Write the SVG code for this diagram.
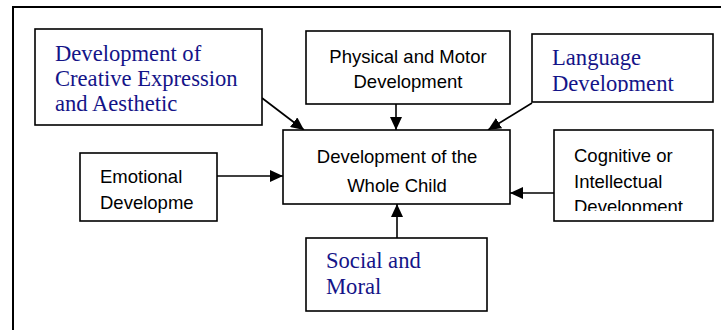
<svg xmlns="http://www.w3.org/2000/svg" width="721" height="330" viewBox="0 0 721 330">
<style>
.box{fill:#fff;stroke:#000;stroke-width:1.6}
.sans{font-family:"Liberation Sans",Arial,sans-serif;font-size:18.5px;fill:#000}
.serif{font-family:"Liberation Serif","Times New Roman",serif;font-size:22.6px;fill:#141488}
.conn{stroke:#000;stroke-width:1.6;fill:none;marker-end:url(#ah)}
</style>
<defs>
<marker id="ah" markerUnits="userSpaceOnUse" markerWidth="14" markerHeight="12" refX="13" refY="6" orient="auto">
<path d="M0,0 L13,6 L0,12 Z" fill="#000"/>
</marker>
<clipPath id="clipLang"><rect x="532" y="34" width="181" height="58"/></clipPath>
<clipPath id="clipCog"><rect x="554" y="130" width="159" height="81"/></clipPath>
</defs>
<rect width="721" height="330" fill="#fff"/>
<path d="M13,330 L13,7 L721,7" fill="none" stroke="#000" stroke-width="2"/>
<g id="connectors">
<line class="conn" x1="262" y1="98" x2="304" y2="130"/>
<line class="conn" x1="396" y1="104" x2="396" y2="130"/>
<line class="conn" x1="532" y1="103" x2="488" y2="130"/>
<line class="conn" x1="217" y1="176" x2="283" y2="176"/>
<line class="conn" x1="554" y1="193" x2="510" y2="193"/>
<line class="conn" x1="397" y1="238" x2="397" y2="204"/>
</g>
<g id="creative">
<rect class="box" x="35" y="29" width="227" height="96"/>
<text class="serif" x="55" y="61">Development of</text>
<text class="serif" x="55" y="86">Creative Expression</text>
<text class="serif" x="55" y="111">and Aesthetic</text>
</g>
<g id="physical">
<rect class="box" x="306" y="31" width="204" height="73"/>
<text class="sans" x="408" y="63" text-anchor="middle">Physical and Motor</text>
<text class="sans" x="408" y="88" text-anchor="middle">Development</text>
</g>
<g id="language">
<rect class="box" x="532" y="34" width="181" height="68"/>
<g clip-path="url(#clipLang)">
<text class="serif" x="552" y="65">Language</text>
<text class="serif" x="552" y="91">Development</text>
</g>
</g>
<g id="whole">
<rect class="box" x="283" y="130" width="227" height="74"/>
<text class="sans" x="397" y="163" text-anchor="middle">Development of the</text>
<text class="sans" x="397" y="192" text-anchor="middle">Whole Child</text>
</g>
<g id="emotional">
<rect class="box" x="80" y="153" width="137" height="68"/>
<text class="sans" x="100" y="183">Emotional</text>
<text class="sans" x="100" y="209">Developme</text>
</g>
<g id="cognitive">
<rect class="box" x="554" y="130" width="159" height="91"/>
<g clip-path="url(#clipCog)">
<text class="sans" x="574" y="162">Cognitive or</text>
<text class="sans" x="574" y="188">Intellectual</text>
<text class="sans" x="574" y="213">Development</text>
</g>
</g>
<g id="social">
<rect class="box" x="306" y="238" width="181" height="73"/>
<text class="serif" x="326" y="268">Social and</text>
<text class="serif" x="326" y="294">Moral</text>
</g>
</svg>
